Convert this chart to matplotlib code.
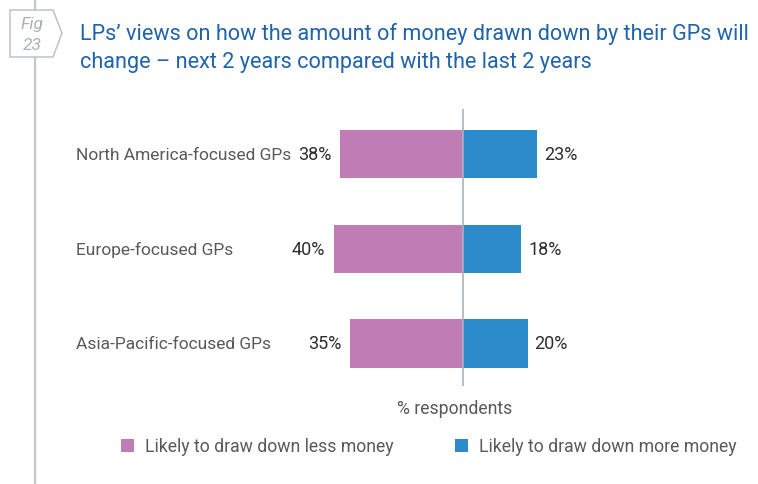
import matplotlib
matplotlib.use("Agg")
import matplotlib.pyplot as plt
import matplotlib.transforms as mtransforms
from matplotlib.patches import Polygon

plt.rcParams['font.family'] = ['Roboto', 'DejaVu Sans']

# survey answers, % of LPs
categories = ["North America-focused GPs", "Europe-focused GPs", "Asia-Pacific-focused GPs"]
less_money = [38, 40, 35]
more_money = [23, 18, 20]
series_names = ["Likely to draw down less money", "Likely to draw down more money"]

title_lines = ["LPs\u2019 views on how the amount of money drawn down by their GPs will",
               "change \u2013 next 2 years compared with the last 2 years"]

PINK = "#c07db5"
BLUE = "#2b8bcb"
GREY_TXT = "#58595b"
DARK_TXT = "#2e2e2e"
LINE = "#c3c7cc"

W, H = 758, 485
fig = plt.figure(figsize=(W / 100, H / 100), dpi=100)

# overlay in pixel coords for the frame decorations
deco = fig.add_axes([0, 0, 1, 1])
deco.set_xlim(0, W)
deco.set_ylim(H, 0)
deco.axis("off")
deco.plot([35, 35], [0, 11], color=LINE, lw=1.6)
deco.plot([35, 35], [58, H], color=LINE, lw=1.6)
deco.add_patch(Polygon([(10, 11), (53, 11), (62, 34), (53, 58), (10, 58)],
                       closed=True, fill=True, facecolor="white", edgecolor=LINE, lw=1.2))
deco.text(32, 24, "Fig", ha="center", va="center", fontsize=12.5, style="italic", color="#aab0b8")
deco.text(32, 46, "23", ha="center", va="center", fontsize=12.5, style="italic", color="#aab0b8")
for yb, line in zip([40, 68], title_lines):
    deco.text(80, yb, line, ha="left", va="baseline", fontsize=15.6, color="#1f63ad")

# main bar axes
ax = fig.add_axes([317.6 / W, 1 - 387 / H, 290.7 / W, 277 / H])
ypos = list(range(len(categories)))
b1 = ax.barh(ypos, [-v for v in less_money], height=0.51, color=PINK, label=series_names[0])
b2 = ax.barh(ypos, more_money, height=0.51, color=BLUE, label=series_names[1])
ax.set_xlim(-45, 45)
ax.set_ylim(2.45, -0.476)
ax.axvline(0, color="#a9b2bd", lw=1.2)
ax.axis("off")

for y, v in zip(ypos, less_money):
    ax.annotate(f"{v}%", (-v, y), xytext=(-6, 0), textcoords="offset points",
                ha="right", va="center", fontsize=13, color=DARK_TXT)
for y, v in zip(ypos, more_money):
    ax.annotate(f"{v}%", (v, y), xytext=(5, 0), textcoords="offset points",
                ha="left", va="center", fontsize=13, color=DARK_TXT)

trans = mtransforms.blended_transform_factory(fig.transFigure, ax.transData)
for y, c in zip(ypos, categories):
    ax.text(76 / W, y, c, transform=trans, ha="left", va="center", fontsize=12.5, color=GREY_TXT)

fig.text(455 / W, 1 - 409 / H, "% respondents", ha="center", va="center", fontsize=12.7, color=GREY_TXT)

leg = fig.legend(handles=[b1, b2], loc="center left", bbox_to_anchor=(121 / W, 1 - 447.5 / H),
                 ncol=2, frameon=False, fontsize=12.7, handlelength=0.74, handleheight=0.74,
                 handletextpad=0.62, columnspacing=3.5, labelcolor=GREY_TXT,
                 borderpad=0, borderaxespad=0)

fig.savefig("out.png", dpi=100)
